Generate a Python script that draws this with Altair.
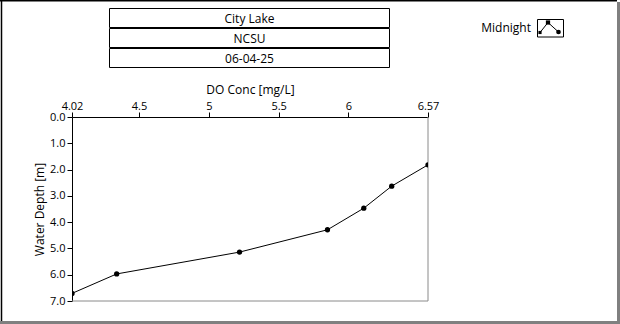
import altair as alt
import pandas as pd

# Dissolved-oxygen profile (midnight cast)
do_conc = [4.02, 4.34, 5.22, 5.85, 6.11, 6.31, 6.57]
depth = [6.71, 5.97, 5.14, 4.29, 3.47, 2.63, 1.82]
x_ticks = [4.02, 4.5, 5.0, 5.5, 6.0, 6.57]
y_ticks = [0.0, 1.0, 2.0, 3.0, 4.0, 5.0, 6.0, 7.0]
header_lines = ["City Lake", "NCSU", "06-04-25"]
series_name = "Midnight"

FONT = "Open Sans"
W, H = 356, 184          # plot area
LEFT, TOP = 72, 117      # plot origin inside the 620x324 canvas
TOTAL_W, TOTAL_H = 620, 324

df = pd.DataFrame({"do": do_conc, "depth": depth, "order": list(range(len(do_conc)))})
one = pd.DataFrame({"k": [0]})


def px(v):
    """canvas x -> plot-relative x"""
    return alt.value(v - LEFT)


def py(v):
    """canvas y -> plot-relative y"""
    return alt.value(v - TOP)


x_enc = alt.X(
    "do:Q",
    scale=alt.Scale(domain=[x_ticks[0], x_ticks[-1]], nice=False, zero=False),
    axis=alt.Axis(
        orient="top", values=x_ticks, labelExpr="format(datum.value, '.3~g')",
        title="DO Conc [mg/L]", tickCount=len(x_ticks),
        tickSize=5, labelPadding=1, titlePadding=4, labelFlush=False,
        labelOverlap=False, grid=False,
    ),
)
y_enc = alt.Y(
    "depth:Q",
    scale=alt.Scale(domain=[0, 7], reverse=True, nice=False, zero=False),
    axis=alt.Axis(
        values=y_ticks, labelExpr="format(datum.value, '.1f')",
        title="Water Depth [m]", tickCount=len(y_ticks),
        tickSize=5, labelPadding=2, titlePadding=3, grid=False,
        labelOverlap=False,
    ),
)

base = alt.Chart(df)
profile = base.mark_line(color="black", strokeWidth=1, clip=True).encode(
    x=x_enc, y=y_enc, order="order:Q"
)
dots = base.mark_circle(color="black", size=28, opacity=1, clip=True).encode(
    x=x_enc, y=y_enc
)

deco = alt.Chart(one)

# right and bottom edges of the plot frame (gray)
frame_right = deco.mark_rule(color="#8a8a8a", strokeWidth=1).encode(
    x=alt.value(W), y=alt.value(0), y2=alt.value(H)
)
frame_bottom = deco.mark_rule(color="#8a8a8a", strokeWidth=1).encode(
    x=alt.value(0), x2=alt.value(W), y=alt.value(H)
)

# outer panel border
border = [
    deco.mark_rule(color="black", strokeWidth=1.5).encode(
        x=px(0), x2=px(617), y=py(0.75)
    ),
    deco.mark_rule(color="black", strokeWidth=1.5).encode(
        x=px(1.5), y=py(0), y2=py(321)
    ),
    deco.mark_rect(color="#808080").encode(
        x=px(617), x2=px(620), y=py(2), y2=py(324)
    ),
    deco.mark_rect(color="#808080").encode(
        x=px(0), x2=px(620), y=py(321), y2=py(324)
    ),
]

# stacked header boxes
header = []
row_top = 8.5
row_h = 19
for i, line in enumerate(header_lines):
    y0 = row_top + i * (row_h + 1)
    header.append(
        deco.mark_rect(fill="white", stroke="black", strokeWidth=1).encode(
            x=px(109.5), x2=px(389.5), y=py(y0), y2=py(y0 + row_h)
        )
    )
    header.append(
        deco.mark_text(font=FONT, fontSize=12, color="black",
                       align="center", baseline="middle").encode(
            x=px(249.5), y=py(y0 + row_h / 2 + 0.5), text=alt.value(line)
        )
    )

# series legend with a small plot glyph
legend = [
    deco.mark_text(font=FONT, fontSize=12, color="black",
                   align="right", baseline="middle").encode(
        x=px(531), y=py(27.5), text=alt.value(series_name)
    ),
    deco.mark_rect(fill="white", stroke="black", strokeWidth=1).encode(
        x=px(537.5), x2=px(563.5), y=py(19.5), y2=py(37)
    ),
    deco.mark_rule(color="black", strokeWidth=1).encode(
        x=px(540), y=py(32.5), x2=px(548), y2=py(22.5)
    ),
    deco.mark_rule(color="black", strokeWidth=1).encode(
        x=px(548), y=py(22.5), x2=px(558.5), y2=py(32)
    ),
    deco.mark_square(color="black", size=10, opacity=1).encode(
        x=px(540), y=py(32.5)
    ),
    deco.mark_square(color="black", size=18, opacity=1).encode(
        x=px(548), y=py(22.5)
    ),
    deco.mark_circle(color="black", size=22, opacity=1).encode(
        x=px(558.5), y=py(32)
    ),
]

chart = alt.layer(
    *border, frame_right, frame_bottom, profile, dots, *header, *legend
).properties(
    width=W,
    height=H,
    background="white",
    autosize=alt.AutoSizeParams(type="none"),
    padding={"left": LEFT, "top": TOP, "right": TOTAL_W - LEFT - W,
             "bottom": TOTAL_H - TOP - H},
).configure_view(
    stroke=None
).configure_axis(
    domainColor="black", domainWidth=1, tickColor="black", tickWidth=1,
    labelFont=FONT, labelFontSize=11, labelColor="black",
    titleFont=FONT, titleFontSize=12, titleFontWeight="normal", titleColor="black",
)

chart.save("out.html", embed_options={"renderer": "svg", "actions": False})
